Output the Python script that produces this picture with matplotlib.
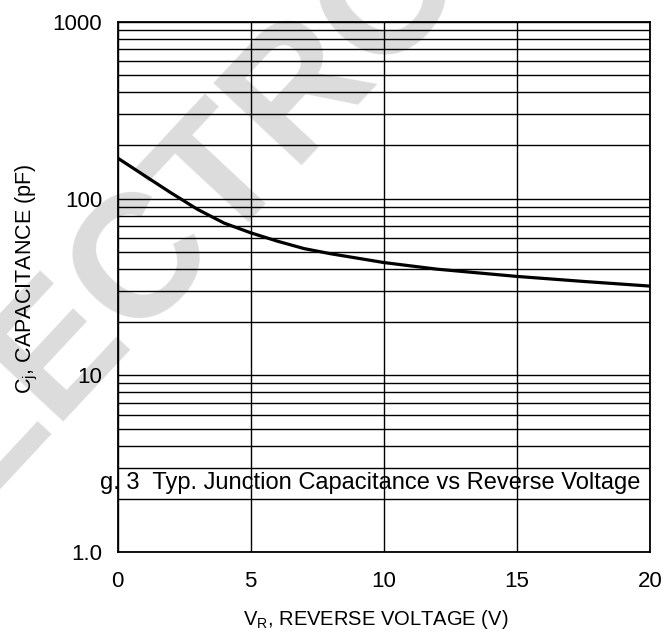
import matplotlib
matplotlib.use("Agg")
import matplotlib.pyplot as plt

plt.rcParams['font.family'] = ['Liberation Sans', 'DejaVu Sans']
plt.rcParams['mathtext.fontset'] = 'custom'
plt.rcParams['mathtext.rm'] = 'Liberation Sans'
plt.rcParams['mathtext.it'] = 'Liberation Sans:italic'

# valores (V, pF)
tensao = [0, 1, 2, 3, 4, 5, 6, 7, 8, 10, 12, 15, 17.5, 20]
capacitancia = [170, 135.5, 108.1, 87.1, 72.8, 64.1, 57.5, 52.2, 48.8, 43.5, 39.9, 36.3, 34.0, 32.0]

x_ticks = [0, 5, 10, 15, 20]
y_ticks = [1, 10, 100, 1000]
y_labels = ["1.0", "10", "100", "1000"]

fig = plt.figure(figsize=(6.67, 6.37), dpi=100)
ax = fig.add_axes([117.5 / 667, 1 - 552 / 637, 532.5 / 667, 530 / 637])
ax.patch.set_facecolor('none')

# marca d'agua ao fundo
fig.text(152 / 667, 1 - 248 / 637, "ELECTRO", rotation=47, rotation_mode='anchor',
         ha='center', va='center', fontsize=126, fontweight='bold',
         color='#dcdcdc', zorder=-5)

ax.set_yscale('log')
ax.set_xlim(0, 20)
ax.set_ylim(1, 1000)
ax.set_xticks(x_ticks)
ax.set_yticks(y_ticks)
ax.set_yticklabels(y_labels)
ax.tick_params(axis='both', which='both', length=0, labelsize=16)
ax.tick_params(axis='x', pad=13.5)
ax.tick_params(axis='y', pad=11)

ax.grid(True, axis='y', which='both', color='black', lw=1.0)
ax.grid(True, axis='x', which='major', color='black', lw=1.0)
for s in ax.spines.values():
    s.set_linewidth(1.3)

ax.plot(tensao, capacitancia, color='black', lw=2.3, zorder=3)

ax.text(-0.66, 2.45, "g. 3  Typ. Junction Capacitance vs Reverse Voltage",
        fontsize=17, ha='left', va='center', clip_on=False, zorder=4)

ax.set_xlabel(r"V$_\mathrm{R}$, REVERSE VOLTAGE (V)", fontsize=14.5)
ax.xaxis.set_label_coords(0.485, -0.105)
ax.set_ylabel(r"C$_\mathrm{j}$, CAPACITANCE (pF)", fontsize=15.5)
ax.yaxis.set_label_coords(-0.1455, 0.515)

plt.savefig("out.png", dpi=100)
